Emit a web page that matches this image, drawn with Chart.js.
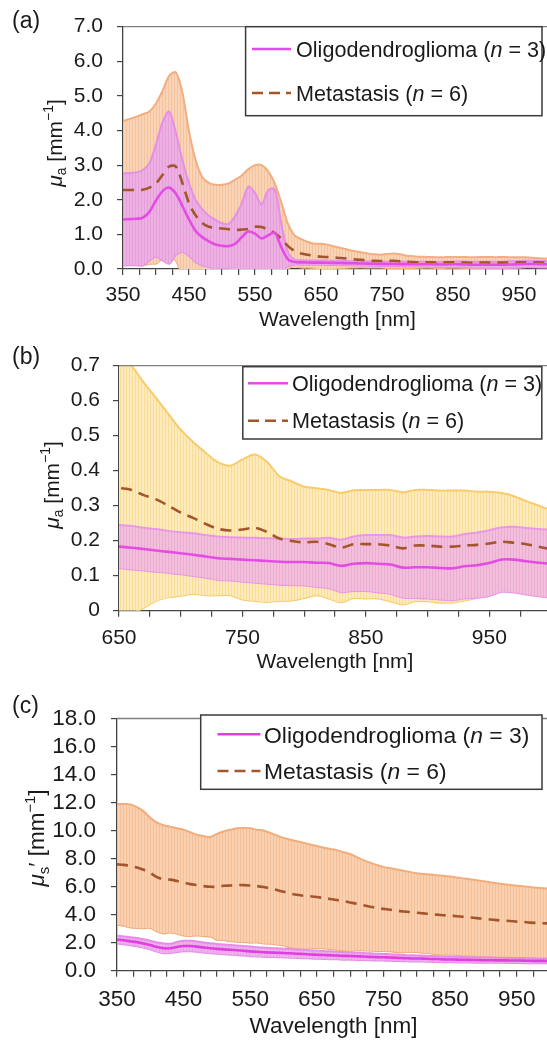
<!DOCTYPE html>
<html>
<head>
<meta charset="utf-8">
<script src="https://cdn.jsdelivr.net/npm/chart.js@4.4.1/dist/chart.umd.min.js"></script>
<style>
  html, body { margin: 0; padding: 0; background: #fff; overflow: hidden; width: 547px; height: 1040px; }
  canvas { position: absolute; left: 0; }
</style>
</head>
<body>
<canvas id="chartA" width="560" height="340" style="top:0px"></canvas>
<canvas id="chartB" width="560" height="350" style="top:340px"></canvas>
<canvas id="chartC" width="560" height="350" style="top:690px"></canvas>
<script>
// wavelength grid [nm]
const wavelengths = [
  350, 360, 370, 380, 390, 400, 410, 420, 430, 440,
  450, 460, 470, 480, 490, 500, 510, 520, 530, 540,
  550, 560, 570, 580, 590, 600, 610, 620, 630, 640,
  650, 660, 670, 680, 690, 700, 710, 720, 730, 740,
  750, 760, 770, 780, 790, 800, 810, 820, 830, 840,
  850, 860, 870, 880, 890, 900, 910, 920, 930, 940,
  950, 960, 970, 980, 990, 1000
];

// absorption mu_a [mm^-1] (panels a and b)
const muaMetMean = [
  2.28, 2.28, 2.28, 2.29, 2.35, 2.47, 2.72, 2.96, 2.96, 2.48,
  1.90, 1.55, 1.33, 1.22, 1.19, 1.17, 1.15, 1.13, 1.14, 1.16,
  1.22, 1.21, 1.13, 1.04, 0.87, 0.66, 0.52, 0.45, 0.41, 0.38,
  0.353, 0.345, 0.33, 0.318, 0.30, 0.28, 0.265, 0.248, 0.234, 0.229,
  0.232, 0.237, 0.225, 0.206, 0.199, 0.195, 0.197, 0.19, 0.18, 0.19,
  0.19, 0.19, 0.186, 0.178, 0.186, 0.186, 0.183, 0.183, 0.186, 0.188,
  0.192, 0.197, 0.194, 0.19, 0.183, 0.175
];
const muaMetSd = [
  1.99, 2.05, 2.12, 2.18, 2.20, 2.31, 2.43, 2.62, 2.72, 2.62,
  2.08, 1.60, 1.33, 1.27, 1.24, 1.26, 1.32, 1.45, 1.56, 1.73,
  1.78, 1.79, 1.69, 1.43, 1.04, 0.64, 0.45, 0.41, 0.37, 0.35,
  0.377, 0.355, 0.322, 0.29, 0.262, 0.237, 0.217, 0.204, 0.19, 0.185,
  0.2, 0.209, 0.2, 0.178, 0.17, 0.159, 0.153, 0.155, 0.156, 0.154,
  0.155, 0.155, 0.159, 0.16, 0.159, 0.159, 0.16, 0.16, 0.157, 0.152,
  0.148, 0.139, 0.133, 0.123, 0.117, 0.112
];
const muaOliMean = [
  1.43, 1.44, 1.45, 1.48, 1.65, 1.98, 2.25, 2.35, 2.18, 1.82,
  1.43, 1.10, 0.92, 0.80, 0.71, 0.67, 0.66, 0.73, 0.92, 1.08,
  1.02, 0.88, 0.97, 1.05, 0.62, 0.28, 0.20, 0.19, 0.186, 0.185,
  0.183, 0.18, 0.176, 0.172, 0.168, 0.164, 0.16, 0.155, 0.15, 0.148,
  0.146, 0.144, 0.142, 0.14, 0.139, 0.139, 0.137, 0.136, 0.128, 0.134,
  0.136, 0.134, 0.132, 0.123, 0.124, 0.124, 0.122, 0.121, 0.127, 0.13,
  0.136, 0.146, 0.146, 0.141, 0.137, 0.134
];
const muaOliSd = [
  1.33, 1.33, 1.34, 1.38, 1.40, 1.62, 2.00, 2.20, 1.77, 1.33,
  1.05, 0.90, 0.81, 0.74, 0.71, 0.65, 0.64, 0.80, 0.98, 1.30,
  1.17, 0.98, 1.31, 1.25, 0.68, 0.20, 0.07, 0.065, 0.063, 0.062,
  0.062, 0.062, 0.061, 0.061, 0.06, 0.06, 0.061, 0.061, 0.062, 0.062,
  0.063, 0.064, 0.065, 0.066, 0.066, 0.067, 0.069, 0.072, 0.075, 0.078,
  0.08, 0.082, 0.084, 0.086, 0.088, 0.089, 0.09, 0.091, 0.092, 0.093,
  0.094, 0.092, 0.094, 0.095, 0.096, 0.097
];

// reduced scattering mu_s' [mm^-1] (panel c)
const musMetMean = [
  7.59, 7.55, 7.48, 7.36, 7.20, 6.98, 6.68, 6.52, 6.50, 6.40,
  6.29, 6.18, 6.11, 6.04, 5.99, 5.99, 6.06, 6.08, 6.11, 6.11,
  6.08, 6.04, 5.97, 5.88, 5.76, 5.63, 5.51, 5.42, 5.35, 5.31,
  5.26, 5.19, 5.12, 5.05, 4.96, 4.87, 4.78, 4.67, 4.57, 4.48,
  4.41, 4.35, 4.28, 4.23, 4.19, 4.14, 4.09, 4.05, 4.00, 3.96,
  3.93, 3.89, 3.84, 3.80, 3.75, 3.71, 3.66, 3.61, 3.57, 3.55,
  3.50, 3.48, 3.43, 3.41, 3.39, 3.36
];
const musMetSd = [
  4.30, 4.34, 4.39, 4.31, 4.17, 3.93, 3.89, 3.86, 3.77, 3.76,
  3.77, 3.70, 3.59, 3.57, 3.55, 3.78, 3.87, 3.98, 4.05, 4.07,
  4.08, 4.02, 4.03, 3.96, 3.89, 3.84, 3.84, 3.82, 3.78, 3.70,
  3.64, 3.59, 3.57, 3.55, 3.50, 3.46, 3.32, 3.22, 3.14, 3.07,
  3.00, 2.97, 2.95, 2.91, 2.85, 2.81, 2.82, 2.81, 2.82, 2.81,
  2.79, 2.77, 2.75, 2.72, 2.70, 2.67, 2.65, 2.63, 2.61, 2.56,
  2.56, 2.54, 2.54, 2.51, 2.49, 2.50
];
const musOliMean = [
  2.22, 2.17, 2.10, 2.04, 1.94, 1.83, 1.69, 1.60, 1.60, 1.69,
  1.76, 1.76, 1.72, 1.65, 1.60, 1.56, 1.52, 1.49, 1.46, 1.42,
  1.38, 1.35, 1.32, 1.30, 1.28, 1.26, 1.24, 1.21, 1.19, 1.16,
  1.14, 1.12, 1.10, 1.08, 1.06, 1.05, 1.03, 1.01, 0.99, 0.97,
  0.96, 0.94, 0.92, 0.90, 0.88, 0.87, 0.86, 0.84, 0.83, 0.81,
  0.80, 0.79, 0.78, 0.77, 0.76, 0.75, 0.75, 0.74, 0.74, 0.73,
  0.73, 0.72, 0.71, 0.70, 0.70, 0.69
];
const musOliSd = [
  0.28, 0.28, 0.29, 0.29, 0.30, 0.31, 0.33, 0.35, 0.33, 0.36,
  0.38, 0.37, 0.37, 0.36, 0.36, 0.35, 0.35, 0.35, 0.34, 0.34,
  0.34, 0.33, 0.33, 0.32, 0.32, 0.31, 0.31, 0.30, 0.30, 0.29,
  0.29, 0.28, 0.28, 0.27, 0.27, 0.26, 0.26, 0.25, 0.25, 0.24,
  0.24, 0.23, 0.23, 0.22, 0.22, 0.22, 0.21, 0.21, 0.21, 0.20,
  0.20, 0.20, 0.20, 0.19, 0.19, 0.19, 0.19, 0.18, 0.18, 0.18,
  0.18, 0.18, 0.18, 0.17, 0.17, 0.17
];

// labelled x ticks
const xMajorAC = [350, 450, 550, 650, 750, 850, 950];
const xMajorB = [650, 750, 850, 950];

const seriesNames = [
  [{ t: 'Oligodendroglioma (' }, { t: 'n', s: 'i' }, { t: ' = 3)' }],
  [{ t: 'Metastasis (' }, { t: 'n', s: 'i' }, { t: ' = 6)' }]
];

const FONT = '"Liberation Sans", Arial, sans-serif';
const TEXT = '#1a1a1a';
const AXIS = '#444';
const MET_LINE = '#a4552b';

function stripes (base, line) {
  const c = document.createElement('canvas');
  c.width = 3; c.height = 4;
  const g = c.getContext('2d');
  g.fillStyle = base; g.fillRect(0, 0, 3, 4);
  g.fillStyle = line; g.fillRect(0, 0, 1, 4);
  return g.createPattern(c, 'repeat');
}

function points (values) {
  return wavelengths.map((w, i) => ({ x: w, y: values[i] }));
}

// draws text runs (normal / italic / sub / sup) from x, baseline y; returns width
function drawRuns (ctx, runs, size, x, y, measureOnly) {
  let cx = x;
  runs.forEach(r => {
    let font = size + 'px ' + FONT;
    let dy = 0;
    if (r.s === 'i') font = 'italic ' + size + 'px ' + FONT;
    if (r.s === 'sub') { font = (size * 0.66) + 'px ' + FONT; dy = size * 0.22; }
    if (r.s === 'sup') { font = (size * 0.66) + 'px ' + FONT; dy = -size * 0.42; }
    ctx.font = font;
    if (!measureOnly) ctx.fillText(r.t, cx, y + dy);
    cx += ctx.measureText(r.t).width;
  });
  return cx - x;
}

const decor = {
  id: 'decor',
  afterDraw (chart) {
    const p = chart.config.options.panel;
    const ctx = chart.ctx;
    const a = chart.chartArea;
    ctx.save();

    // plot frame top edge
    ctx.strokeStyle = '#808080';
    ctx.lineWidth = 1.3;
    ctx.beginPath();
    ctx.moveTo(a.left, a.top);
    ctx.lineTo(a.right, a.top);
    ctx.stroke();

    // legend box
    const L = p.legend;
    ctx.fillStyle = '#fff';
    ctx.fillRect(L.x, L.y, L.w, L.h);
    ctx.strokeStyle = '#3a3a3a';
    ctx.lineWidth = 1.5;
    ctx.strokeRect(L.x, L.y, L.w, L.h);

    ctx.lineWidth = 2.6;
    ctx.strokeStyle = p.oliLine;
    ctx.setLineDash([]);
    ctx.beginPath();
    ctx.moveTo(L.x0, L.rows[0]); ctx.lineTo(L.x1, L.rows[0]);
    ctx.stroke();
    ctx.strokeStyle = MET_LINE;
    ctx.setLineDash([11, 6]);
    ctx.beginPath();
    ctx.moveTo(L.x0, L.rows[1]); ctx.lineTo(L.x1, L.rows[1]);
    ctx.stroke();
    ctx.setLineDash([]);

    ctx.fillStyle = TEXT;
    ctx.textBaseline = 'alphabetic';
    ctx.textAlign = 'left';
    seriesNames.forEach((runs, i) => {
      drawRuns(ctx, runs, L.size, L.tx, L.rows[i] + L.size * 0.36);
    });

    // x axis title
    ctx.font = p.fontSize + 'px ' + FONT;
    ctx.textAlign = 'center';
    ctx.textBaseline = 'middle';
    ctx.fillText('Wavelength [nm]', (a.left + a.right) / 2, p.xTitleY);

    // panel label
    ctx.font = '23px ' + FONT;
    ctx.textAlign = 'left';
    ctx.fillText(p.label, 12, p.labelY);

    // y axis title (rotated)
    ctx.textAlign = 'left';
    ctx.textBaseline = 'alphabetic';
    const w = drawRuns(ctx, p.yTitle, p.fontSize, 0, 0, true);
    ctx.translate(p.yTitleX, p.yTitleY);
    ctx.rotate(-Math.PI / 2);
    drawRuns(ctx, p.yTitle, p.fontSize, -w / 2, p.fontSize * 0.36);
    ctx.restore();
  }
};

function buildChart (id, p) {
  const canvas = document.getElementById(id);
  const W = canvas.width;
  const H = canvas.height;
  const oliUp = p.oliMean.map((m, i) => m + p.oliSd[i]);
  const oliLo = p.oliMean.map((m, i) => m - p.oliSd[i]);
  const metUp = p.metMean.map((m, i) => m + p.metSd[i]);
  const metLo = p.metMean.map((m, i) => m - p.metSd[i]);

  // minor tick positions along the wavelength axis
  const xTicks = [];
  for (let v = p.xMin; v <= 1000; v += p.xStep) xTicks.push(v);

  new Chart(canvas, {
    type: 'line',
    data: {
      datasets: [
        { label: 'Oligodendroglioma mean', data: points(p.oliMean), borderColor: p.oliLine, borderWidth: 2.6, fill: false, order: 0 },
        { label: 'Metastasis mean', data: points(p.metMean), borderColor: MET_LINE, borderWidth: 2.6, borderDash: [11, 7], fill: false, order: 1 },
        { label: 'Oligodendroglioma +SD', data: points(oliUp), borderColor: p.oliEdge, borderWidth: 2, fill: '+1', backgroundColor: stripes(p.oliFill, p.oliStripe), order: 2 },
        { label: 'Oligodendroglioma -SD', data: points(oliLo), borderColor: p.oliEdge, borderWidth: 2, fill: false, order: 3 },
        { label: 'Metastasis +SD', data: points(metUp), borderColor: p.metEdge, borderWidth: 2, fill: '+1', backgroundColor: stripes(p.metFill, p.metStripe), order: 4 },
        { label: 'Metastasis -SD', data: points(metLo), borderColor: p.metEdge, borderWidth: 2, fill: false, order: 5 }
      ]
    },
    options: {
      panel: p,
      responsive: false,
      animation: false,
      events: [],
      layout: { padding: { top: p.top, right: W - p.right, left: 0, bottom: 0 } },
      elements: { point: { radius: 0 }, line: { tension: 0.3 } },
      plugins: { legend: { display: false }, tooltip: { enabled: false } },
      scales: {
        x: {
          type: 'linear',
          min: p.xMin,
          max: 1000,
          afterBuildTicks: s => { s.ticks = xTicks.map(v => ({ value: v })); },
          ticks: {
            autoSkip: false,
            maxRotation: 0,
            padding: p.xPad,
            color: TEXT,
            font: { family: FONT, size: p.fontSize },
            callback: v => (p.xMajor.includes(v) ? String(v) : '')
          },
          grid: { drawOnChartArea: false, tickLength: 6, color: AXIS, lineWidth: 1.2 },
          border: { color: AXIS, width: 1.3 },
          afterFit: s => { s.height = H - p.bottom; }
        },
        y: {
          min: 0,
          max: p.yMax,
          ticks: {
            stepSize: p.yStep,
            autoSkip: false,
            padding: p.yPad,
            color: TEXT,
            font: { family: FONT, size: p.fontSize },
            callback: p.yFmt
          },
          grid: { drawOnChartArea: false, tickLength: 6, color: AXIS, lineWidth: 1.2 },
          border: { color: AXIS, width: 1.3 },
          afterFit: s => { s.width = p.left; }
        }
      }
    },
    plugins: [decor]
  });
}

buildChart('chartA', {
  label: '(a)', labelY: 22,
  top: 20.7, bottom: 269, left: 123, right: 552,
  xMin: 350, xStep: 25, xMajor: xMajorAC, xPad: 8,
  yMax: 7, yStep: 1, yPad: 14, yFmt: v => v.toFixed(1),
  fontSize: 21, xTitleY: 320,
  yTitle: [{ t: 'μ', s: 'i' }, { t: 'a', s: 'sub' }, { t: ' [mm' }, { t: '−1', s: 'sup' }, { t: ']' }],
  yTitleX: 54, yTitleY: 143,
  metMean: muaMetMean, metSd: muaMetSd, oliMean: muaOliMean, oliSd: muaOliSd,
  metFill: '#f9d4b6', metStripe: '#f5c29e', metEdge: '#f2ae80',
  oliFill: '#edb0e2', oliStripe: '#e79fdb', oliEdge: '#e590e2', oliLine: '#e44de4',
  legend: { x: 245.6, y: 26.7, w: 296.4, h: 89, rows: [49, 93], x0: 252, x1: 291, tx: 296, size: 21.6 }
});

buildChart('chartB', {
  label: '(b)', labelY: 18,
  top: 19.3, bottom: 270.7, left: 119, right: 556,
  xMin: 650, xStep: 25, xMajor: xMajorB, xPad: 9,
  yMax: 0.7, yStep: 0.1, yPad: 13, yFmt: v => (v === 0 ? '0' : v.toFixed(1)),
  fontSize: 21, xTitleY: 322,
  yTitle: [{ t: 'μ', s: 'i' }, { t: 'a', s: 'sub' }, { t: ' [mm' }, { t: '−1', s: 'sup' }, { t: ']' }],
  yTitleX: 51, yTitleY: 145,
  metMean: muaMetMean, metSd: muaMetSd, oliMean: muaOliMean, oliSd: muaOliSd,
  metFill: '#feebbd', metStripe: '#fbdc95', metEdge: '#f8cc6c',
  oliFill: '#f2bfdc', oliStripe: '#ecabd0', oliEdge: '#ea98e6', oliLine: '#e44de4',
  legend: { x: 242.8, y: 26.7, w: 299, h: 72.3, rows: [43.3, 80.7], x0: 248, x1: 288, tx: 292, size: 21.6 }
});

buildChart('chartC', {
  label: '(c)', labelY: 17,
  top: 18.3, bottom: 280.7, left: 117, right: 550,
  xMin: 350, xStep: 25, xMajor: xMajorAC, xPad: 10,
  yMax: 18, yStep: 2, yPad: 15, yFmt: v => v.toFixed(1),
  fontSize: 22.5, xTitleY: 337,
  yTitle: [{ t: 'μ', s: 'i' }, { t: 's', s: 'sub' }, { t: '′ [mm' }, { t: '−1', s: 'sup' }, { t: ']' }],
  yTitleX: 36, yTitleY: 148,
  metMean: musMetMean, metSd: musMetSd, oliMean: musOliMean, oliSd: musOliSd,
  metFill: '#f9d0b0', metStripe: '#f5bf98', metEdge: '#f2ad7c',
  oliFill: '#eeb3ec', oliStripe: '#e8a2e6', oliEdge: '#e58de6', oliLine: '#e03fe0',
  legend: { x: 200.7, y: 25, w: 341.3, h: 74.3, rows: [44.3, 81], x0: 217.5, x1: 260.4, tx: 264, size: 22.9 }
});
</script>
</body>
</html>
